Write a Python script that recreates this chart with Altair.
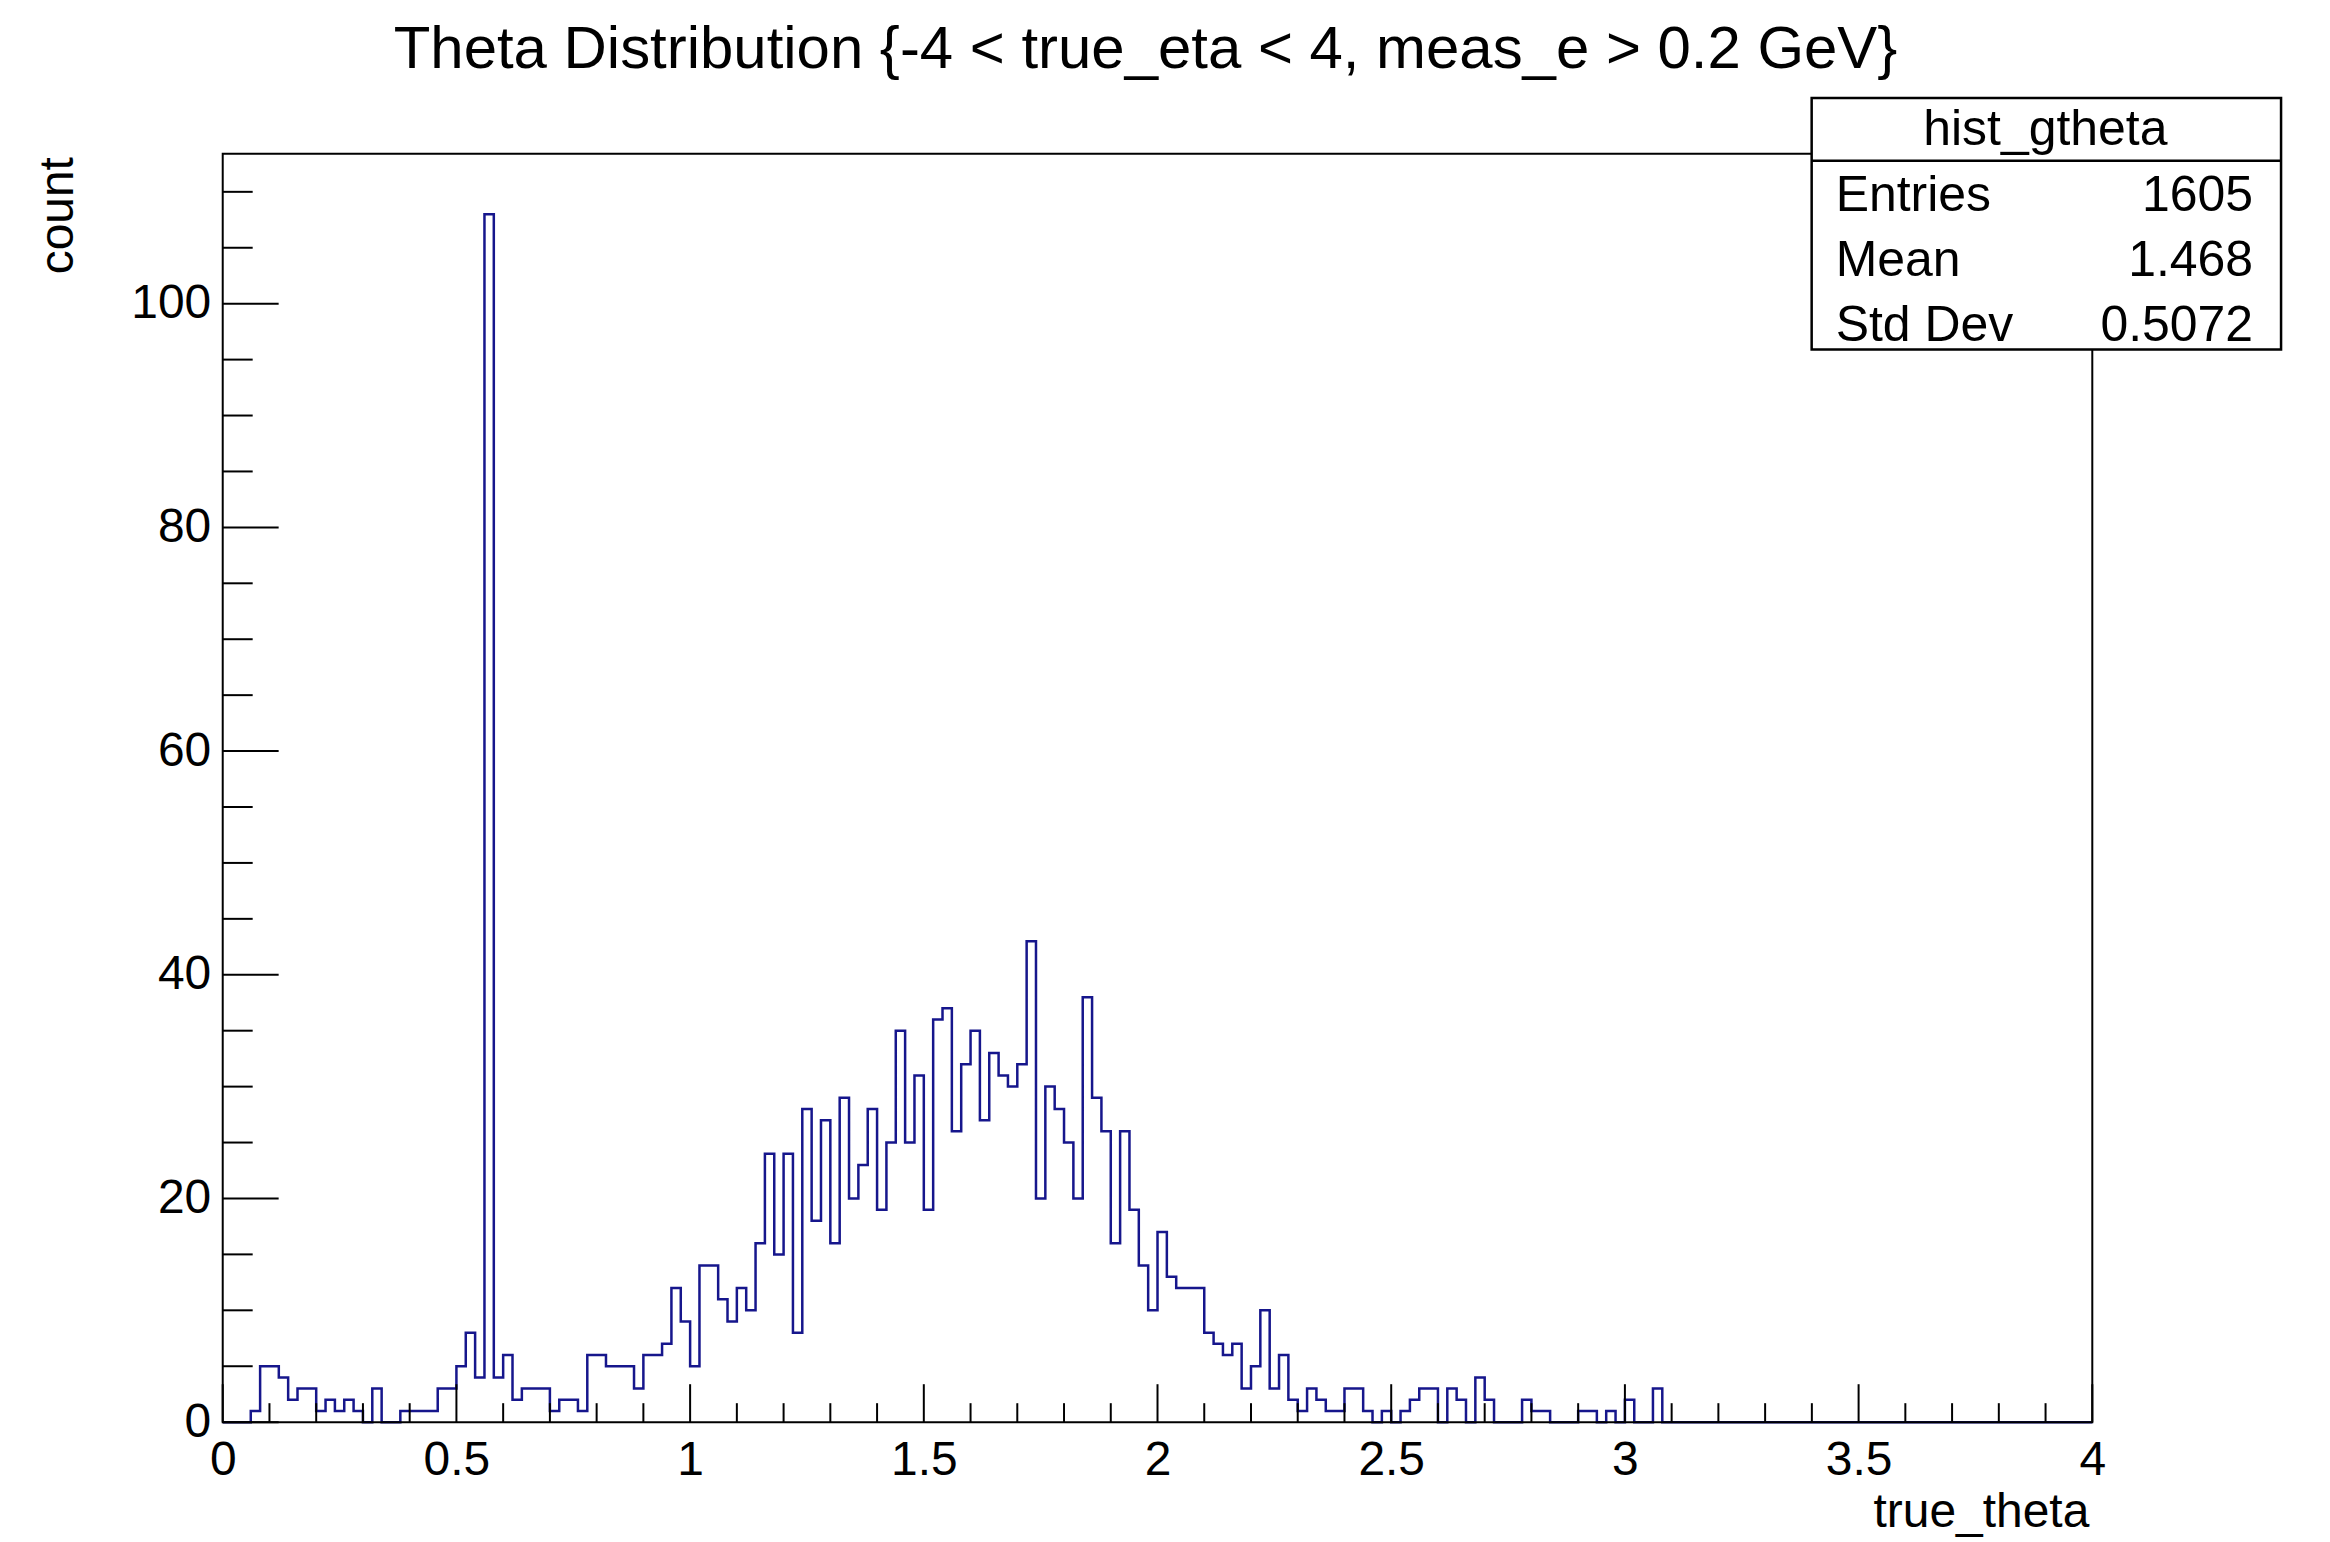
import altair as alt
import pandas as pd

# ---------------- data ----------------
title_text = "Theta Distribution {-4 < true_eta < 4, meas_e > 0.2 GeV}"
x_title = "true_theta"
y_title = "count"

hist_name = "hist_gtheta"
stats_labels = ["Entries", "Mean", "Std Dev"]
stats_values = ["1605", "1.468", "0.5072"]

bin_low = 0.0
bin_width = 0.02
# counts for the 200 bins of width 0.02 between 0 and 4
counts = [
    0, 0, 0, 1, 5, 5, 4, 2, 3, 3,          # 0.00 - 0.18
    1, 2, 1, 2, 1, 0, 3, 0, 0, 1,          # 0.20 - 0.38
    1, 1, 1, 3, 3, 5, 8, 4, 108, 4,        # 0.40 - 0.58
    6, 2, 3, 3, 3, 1, 2, 2, 1, 6,          # 0.60 - 0.78
    6, 5, 5, 5, 3, 6, 6, 7, 12, 9,         # 0.80 - 0.98
    5, 14, 14, 11, 9, 12, 10, 16, 24, 15,  # 1.00 - 1.18
    24, 8, 28, 18, 27, 16, 29, 20, 23, 28, # 1.20 - 1.38
    19, 25, 35, 25, 31, 19, 36, 37, 26, 32,# 1.40 - 1.58
    35, 27, 33, 31, 30, 32, 43, 20, 30, 28,# 1.60 - 1.78
    25, 20, 38, 29, 26, 16, 26, 19, 14, 10,# 1.80 - 1.98
    17, 13, 12, 12, 12, 8, 7, 6, 7, 3,     # 2.00 - 2.18
    5, 10, 3, 6, 2, 1, 3, 2, 1, 1,         # 2.20 - 2.38
    3, 3, 1, 0, 1, 0, 1, 2, 3, 3,          # 2.40 - 2.58
    0, 3, 2, 0, 4, 2, 0, 0, 0, 2,          # 2.60 - 2.78
    1, 1, 0, 0, 0, 1, 1, 0, 1, 0,          # 2.80 - 2.98
    2, 0, 0, 3, 0, 0, 0, 0, 0, 0,          # 3.00 - 3.18
    0, 0, 0, 0, 0, 0, 0, 0, 0, 0,          # 3.20 - 3.38
    0, 0, 0, 0, 0, 0, 0, 0, 0, 0,          # 3.40 - 3.58
    0, 0, 0, 0, 0, 0, 0, 0, 0, 0,          # 3.60 - 3.78
    0, 0, 0, 0, 0, 0, 0, 0, 0, 0,          # 3.80 - 3.98
]

x_major = [0, 0.5, 1, 1.5, 2, 2.5, 3, 3.5, 4]
x_minor = [round(0.1 * k, 1) for k in range(41) if k % 5 != 0]
y_major = [0, 20, 40, 60, 80, 100]
y_minor = [v for v in range(5, 115, 5) if v % 20 != 0]

x_domain = [0, 4]
y_domain = [0, 113.4]

# ---------------- layout / style ----------------
W, H = 1872, 1270
FONT = "Liberation Sans"
LINE_COLOR = "#16168c"

edges = [round(bin_low + i * bin_width, 2) for i in range(len(counts) + 1)]
step_df = pd.DataFrame({"theta": edges, "count": counts + [counts[-1]]})

xs = alt.Scale(domain=x_domain, nice=False, zero=False)
ys = alt.Scale(domain=y_domain, nice=False, zero=False)

one = pd.DataFrame({"k": [0]})

frame = alt.Chart(one).mark_rect(fill=None, stroke="black", strokeWidth=2).encode(
    x=alt.value(0), x2=alt.value(W), y=alt.value(0), y2=alt.value(H)
)

hist = alt.Chart(step_df).mark_line(
    interpolate="step-after", color=LINE_COLOR, strokeWidth=2.5
).encode(
    x=alt.X("theta:Q", scale=xs,
            axis=alt.Axis(values=x_major, format="~g", tickSize=0, ticks=False, domain=False,
                          grid=False, labelFont=FONT, labelFontSize=48, labelColor="black",
                          labelPadding=52, labelBaseline="alphabetic", labelFlush=False,
                          labelOverlap=False, title=None)),
    y=alt.Y("count:Q", scale=ys,
            axis=alt.Axis(values=y_major, format="d", tickSize=0, ticks=False, domain=False,
                          grid=False, labelFont=FONT, labelFontSize=48, labelColor="black",
                          labelPadding=12, labelFlush=False, labelOverlap=False, title=None)),
)

xmaj_df = pd.DataFrame({"v": x_major})
xmin_df = pd.DataFrame({"v": x_minor})
ymaj_df = pd.DataFrame({"v": y_major})
ymin_df = pd.DataFrame({"v": y_minor})

xmaj = alt.Chart(xmaj_df).mark_rule(color="black", strokeWidth=2).encode(
    x=alt.X("v:Q", scale=xs, axis=None), y=alt.value(H), y2=alt.value(H - 38))
xmin = alt.Chart(xmin_df).mark_rule(color="black", strokeWidth=2).encode(
    x=alt.X("v:Q", scale=xs, axis=None), y=alt.value(H), y2=alt.value(H - 19))
ymaj = alt.Chart(ymaj_df).mark_rule(color="black", strokeWidth=2).encode(
    y=alt.Y("v:Q", scale=ys, axis=None), x=alt.value(0), x2=alt.value(56))
ymin = alt.Chart(ymin_df).mark_rule(color="black", strokeWidth=2).encode(
    y=alt.Y("v:Q", scale=ys, axis=None), x=alt.value(0), x2=alt.value(30))

# stats box
bx0, bx1, by0, by1 = 1591, 2061, -56, 196
box = alt.Chart(one).mark_rect(fill="white", stroke="black", strokeWidth=2.5).encode(
    x=alt.value(bx0), x2=alt.value(bx1), y=alt.value(by0), y2=alt.value(by1))
divider = alt.Chart(one).mark_rule(color="black", strokeWidth=2.5).encode(
    x=alt.value(bx0), x2=alt.value(bx1), y=alt.value(7))
header = alt.Chart(one).mark_text(font=FONT, fontSize=50, align="center",
                                  baseline="alphabetic", color="black").encode(
    x=alt.value(1825), y=alt.value(-9), text=alt.value(hist_name))

row_y = [57, 122, 187]
stats_layers = []
for lab, val, yy in zip(stats_labels, stats_values, row_y):
    stats_layers.append(alt.Chart(one).mark_text(font=FONT, fontSize=50, align="left",
                                                 baseline="alphabetic", color="black").encode(
        x=alt.value(1615), y=alt.value(yy), text=alt.value(lab)))
    stats_layers.append(alt.Chart(one).mark_text(font=FONT, fontSize=50, align="right",
                                                 baseline="alphabetic", color="black").encode(
        x=alt.value(2033), y=alt.value(yy), text=alt.value(val)))

title = alt.Chart(one).mark_text(font=FONT, fontSize=60, align="center",
                                 baseline="middle", color="black").encode(
    x=alt.value(924), y=alt.value(-104), text=alt.value(title_text))

xt = alt.Chart(one).mark_text(font=FONT, fontSize=48, align="right",
                              baseline="alphabetic", color="black").encode(
    x=alt.value(1869), y=alt.value(1375), text=alt.value(x_title))

yt = alt.Chart(one).mark_text(font=FONT, fontSize=48, align="center",
                              baseline="middle", angle=270, color="black").encode(
    x=alt.value(-164), y=alt.value(62), text=alt.value(y_title))

chart = alt.layer(
    hist, frame, xmaj, xmin, ymaj, ymin, box, divider, header, *stats_layers, title, xt, yt
).resolve_axis(x="independent", y="independent").properties(
    width=W, height=H,
    autosize=alt.AutoSizeParams(type="none"),
    padding={"left": 215, "top": 145, "right": 230, "bottom": 118},
    background="white",
).configure_view(stroke=None)

chart.save("out.html", embed_options={"renderer": "svg", "actions": False})
